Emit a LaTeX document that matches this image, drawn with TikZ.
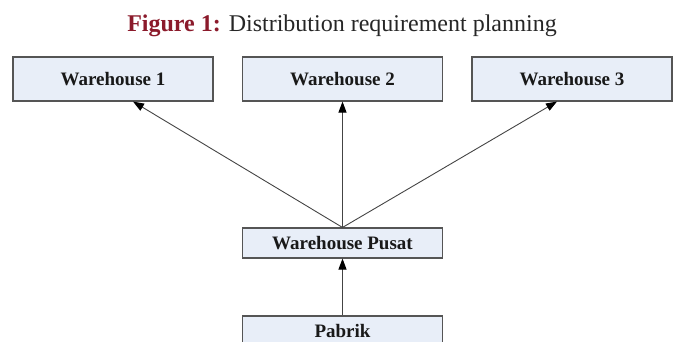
\documentclass[tikz,border=0pt]{standalone}
\usepackage{fontspec}
\setmainfont{Liberation Serif}
\usetikzlibrary{arrows.meta}
\definecolor{figred}{HTML}{8B1A2B}
\definecolor{boxfill}{HTML}{E8EEF8}
\definecolor{boxline}{HTML}{555555}
\definecolor{arr}{HTML}{444444}
\begin{document}
\begin{tikzpicture}[x=1pt,y=-1pt,
  box/.style={draw=boxline, line width=1.1pt, fill=boxfill, minimum width=200pt, inner sep=0pt,
     font=\fontsize{19}{21}\selectfont\bfseries, text=black!90},
  conn/.style={draw=arr, line width=0.9pt, -{Triangle[length=11pt,width=8pt,color=black]}}]
\useasboundingbox (0,0) rectangle (678,341);
\node[font=\fontsize{24}{28}\selectfont, text=black!85, anchor=base] (title) at (342,31)
  {\textcolor{figred}{\textbf{Figure 1:}} Distribution requirement planning};
\node[box, minimum height=44pt] (w1) at (113,79) {Warehouse 1};
\node[box, minimum height=44pt] (w2) at (342.5,79) {Warehouse 2};
\node[box, minimum height=44pt] (w3) at (572,79) {Warehouse 3};
\node[box, minimum height=30pt] (wp) at (342.5,243) {Warehouse Pusat};
\node[box, minimum height=30pt] (pb) at (342.5,331) {Pabrik};
\draw[conn] (wp.north) -- (w1.south -| 133,0);
\draw[conn] (wp.north) -- (w2.south);
\draw[conn] (wp.north) -- (w3.south -| 557,0);
\draw[conn] (pb.north) -- (wp.south);
\end{tikzpicture}
\end{document}
